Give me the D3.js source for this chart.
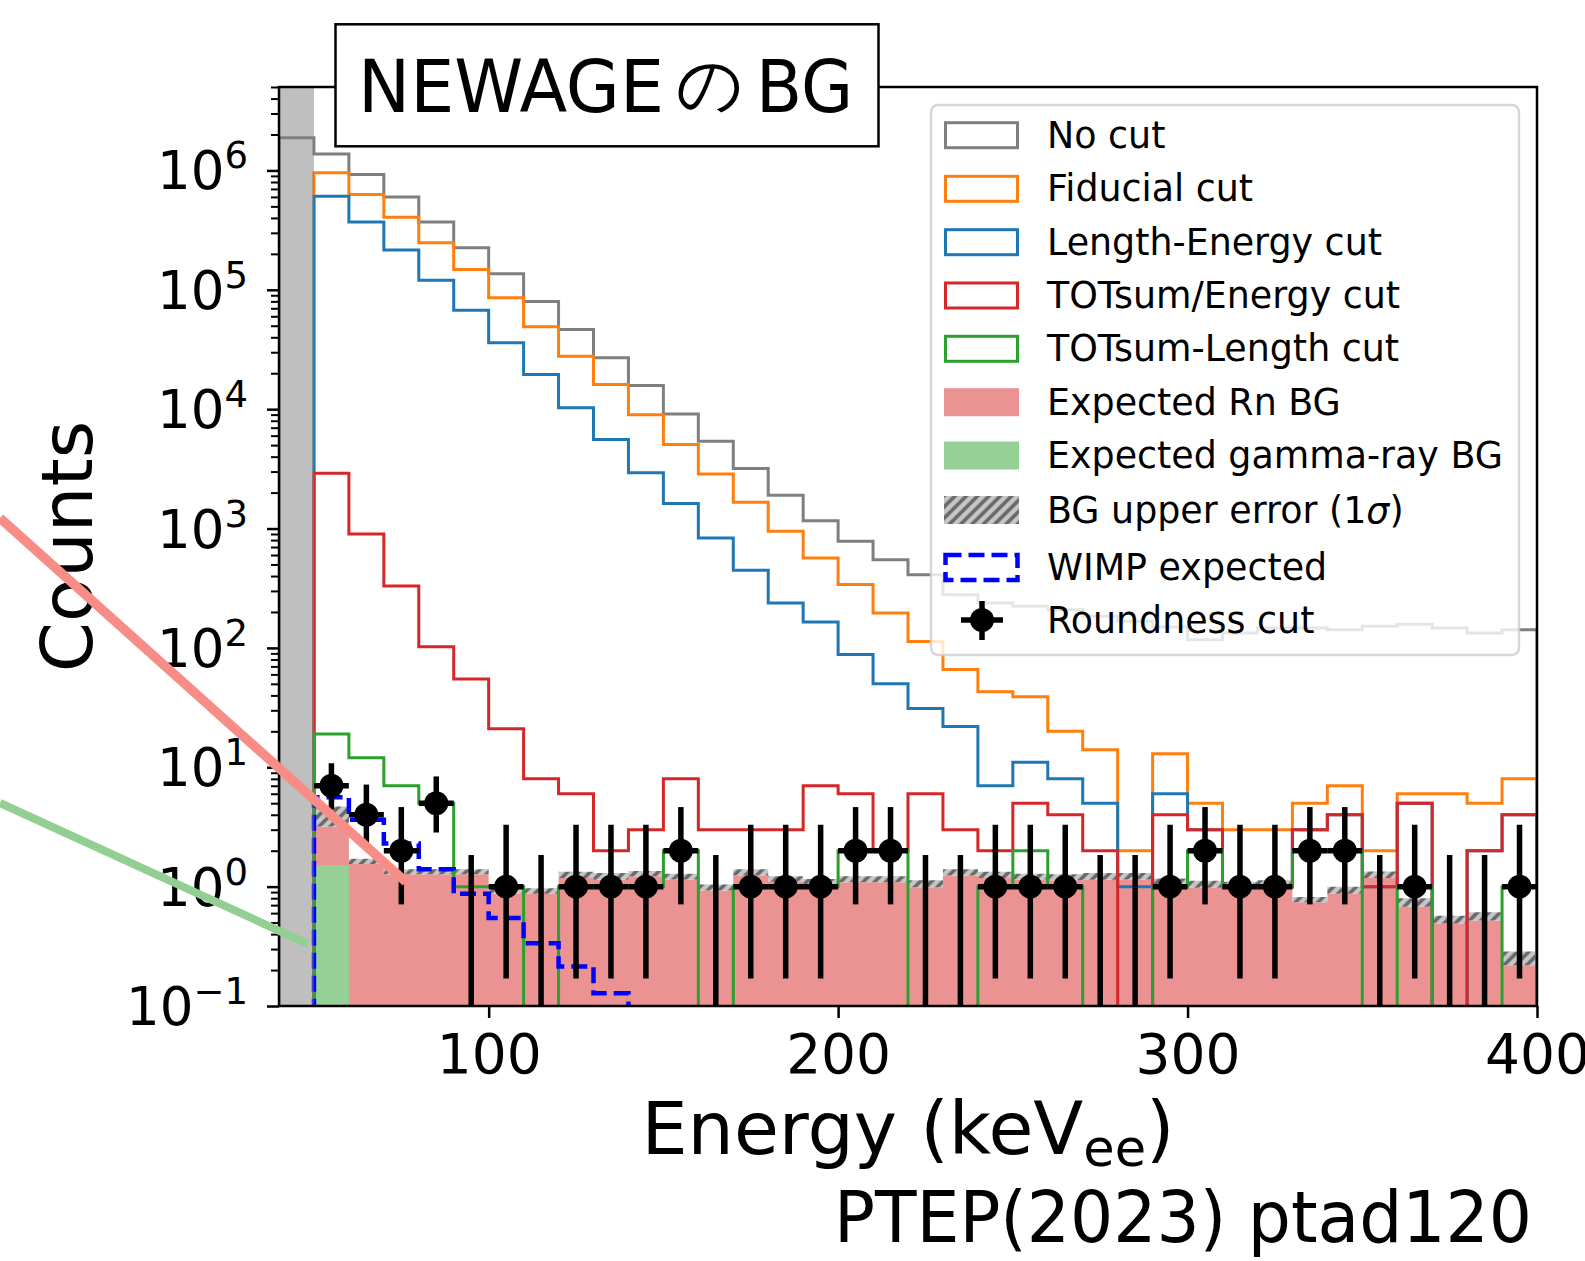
<!DOCTYPE html>
<html>
<head>
<meta charset="utf-8">
<script src="https://cdn.jsdelivr.net/npm/d3@7"></script>
<style>
body { margin: 0; background: #fff; }
text { font-family: "DejaVu Sans", sans-serif; fill: #000; }
</style>
</head>
<body>
<div id="chart"></div>
<script>
// ---- data (counts per 10 keV bin) ----
var binWidth = 10;
var binStart = [50,60,70,80,90,100,110,120,130,140,150,160,170,180,190,200,210,220,230,240,
                250,260,270,280,290,300,310,320,330,340,350,360,370,380,390];
var noCutStart = [40,50,60,70,80,90,100,110,120,130,140,150,160,170,180,190,200,210,220,230,240,
                  250,260,270,280,290,300,310,320,330,340,350,360,370,380,390];
var noCut = [1.88e6,1.37e6,9.26e5,6.0e5,3.69e5,2.25e5,1.36e5,7.98e4,4.65e4,2.69e4,1.58e4,9120,5380,3180,
             1900,1160,781,548,410,279,238,223,209,184,167,150,117,133,147,147,142,152,158,147,133,142];
var fiducial = [9.56e5,6.29e5,4.06e5,2.48e5,1.48e5,8.57e4,4.9e4,2.78e4,1.61e4,9000,5050,2870,1660,948,
                566,339,196,113,66,43,39,20,14,2,13,5,3,3,5,7,2,6,6,5,8];
var lengthEnergy = [6.09e5,3.69e5,2.15e5,1.2e5,6.75e4,3.6e4,1.95e4,1.03e4,5560,2930,1620,834,447,238,
                    165,88,50,31,22,7,11,8,5,1,6,3,1,1,3,4,1,5,0,2,4];
var totEnergy = [2900,900,330,102,55,21,8,6,2,3,8,3,3,3,7,6,2,6,3,2,5,4,2,0,4,3,1,1,3,4,1,5,0,2,4];
var totLength = [19,12,7,5,1,1,0,1,1,1,2,0,1,1,1,2,2,0,0,1,2,1,0,0,1,2,1,1,2,2,0,1,0,0,1];
var roundness = [7,4,2,5,0,1,0,1,1,1,2,0,1,1,1,2,2,0,0,1,1,1,0,0,1,2,1,1,2,2,0,1,0,0,1];
var roundLo = [4.42,2.09,0.71,2.84,0,0.17,0,0.17,0.17,0.17,0.71,0,0.17,0.17,0.17,0.71,0.71,0,0,0.17,
               0.17,0.17,0,0,0.17,0.71,0.17,0.17,0.71,0.71,0,0.17,0,0,0.17];
var roundHi = [10.8,7.16,4.64,8.38,1.84,3.30,1.84,3.30,3.30,3.30,4.64,1.84,3.30,3.30,3.30,4.64,4.64,1.84,
               1.84,3.30,3.30,3.30,1.84,1.84,3.30,4.64,3.30,3.30,4.64,4.64,1.84,3.30,1.84,1.84,3.30];
var rnBG = [1.67,1.545,1.27,1.27,1.27,0.87,0.87,1.18,1.14,1.22,1.15,0.93,1.24,1.10,1.05,1.09,1.09,0.99,
            1.24,1.18,1.15,1.13,1.14,1.15,1.05,0.98,0.98,1.00,0.74,0.87,1.18,0.68,0.49,0.52,0.22];
var gammaBG = [1.52,0,0,0,0,0,0,0,0,0,0,0,0,0,0,0,0,0,0,0,0,0,0,0,0,0,0,0,0,0,0,0,0,0,0];
var bgErrUp = [1.50,0.165,0.13,0.13,0.13,0.10,0.10,0.15,0.16,0.13,0.13,0.11,0.16,0.12,0.11,0.13,0.13,0.14,
               0.16,0.15,0.13,0.14,0.16,0.15,0.12,0.14,0.12,0.13,0.08,0.13,0.16,0.12,0.08,0.09,0.066];
var wimpStart = [50,60,70,80,90,100,110,120,130,140];
var wimp = [5.6,3.63,2.3,1.40,0.87,0.545,0.336,0.214,0.128,0.07];
var xTicks = [100,200,300,400];
var yExpLabels = ["\u22121","0","1","2","3","4","5","6"];

var legendLabels = ["No cut","Fiducial cut","Length-Energy cut","TOTsum/Energy cut","TOTsum-Length cut",
                    "Expected Rn BG","Expected gamma-ray BG","BG upper error (1\u03c3)","WIMP expected","Roundness cut"];

// ---- layout ----
var plotLeft = 279, plotRight = 1537, plotTop = 87, plotBottom = 1006;
var pinkFill = "#eb9393", greenFill = "#96d096";
var wimpDash = "16,7";

var svg = d3.select("#chart").append("svg")
  .attr("width", 1585)
  .attr("height", 1261);

var x = d3.scaleLinear().domain([40, 400]).range([plotLeft, plotRight]);
var y = d3.scaleLog().domain([0.1, 5e6]).range([plotBottom, plotTop]);
// zero counts fall below the axis and get clipped
function yv(v) { return v > 0 ? y(v) : y(1e-3); }

var defs = svg.append("defs");
defs.append("clipPath").attr("id", "plotClip")
  .append("rect")
  .attr("x", plotLeft).attr("y", plotTop)
  .attr("width", plotRight - plotLeft).attr("height", plotBottom - plotTop);

var hatch = defs.append("pattern")
  .attr("id", "hatch")
  .attr("patternUnits", "userSpaceOnUse")
  .attr("width", 8).attr("height", 8)
  .attr("patternTransform", "rotate(45)");
hatch.append("rect").attr("width", 8).attr("height", 8).attr("fill", "#c6c6c6");
hatch.append("line").attr("x1", 2).attr("x2", 2).attr("y1", 0).attr("y2", 8)
  .attr("stroke", "#666").attr("stroke-width", 3.5);

var plot = svg.append("g").attr("clip-path", "url(#plotClip)");

// step helpers
function stepPoints(starts, vals) {
  var pts = [[starts[0], 0]];
  starts.forEach(function(s, i) {
    pts.push([s, vals[i]]);
    pts.push([s + binWidth, vals[i]]);
  });
  pts.push([starts[starts.length - 1] + binWidth, 0]);
  return pts;
}
var stepLine = d3.line()
  .x(function(p) { return x(p[0]); })
  .y(function(p) { return yv(p[1]); });

function areaPoints(lo, hi) {
  var pts = binStart.map(function(s, i) { return {e: s, lo: lo[i], hi: hi[i]}; });
  var last = pts[pts.length - 1];
  pts.push({e: last.e + binWidth, lo: last.lo, hi: last.hi});
  return pts;
}
var stepArea = d3.area()
  .curve(d3.curveStepAfter)
  .x(function(d) { return x(d.e); })
  .y0(function(d) { return d.lo === null ? plotBottom : yv(d.lo); })
  .y1(function(d) { return yv(d.hi); });

// expected backgrounds (stacked: gamma at the bottom, Rn on top)
var bgTotal = rnBG.map(function(r, i) { return r + gammaBG[i]; });
var bgUpper = bgTotal.map(function(t, i) { return t + bgErrUp[i]; });
var nulls = binStart.map(function() { return null; });

plot.append("path")
  .attr("d", stepArea(areaPoints(nulls, bgTotal)))
  .attr("fill", pinkFill);
plot.append("path")
  .attr("d", stepArea(areaPoints(nulls, gammaBG)))
  .attr("fill", greenFill);
plot.append("path")
  .attr("d", stepArea(areaPoints(bgTotal, bgUpper)))
  .attr("fill", "url(#hatch)");

// cut histograms
var hists = [
  {starts: noCutStart, vals: noCut, color: "#7f7f7f"},
  {starts: binStart, vals: fiducial, color: "#ff7f0e"},
  {starts: binStart, vals: lengthEnergy, color: "#1f77b4"},
  {starts: binStart, vals: totEnergy, color: "#d62728"},
  {starts: binStart, vals: totLength, color: "#2ca02c"}
];
plot.selectAll("path.hist")
  .data(hists)
  .enter()
  .append("path")
  .attr("class", "hist")
  .attr("d", function(h) { return stepLine(stepPoints(h.starts, h.vals)); })
  .attr("fill", "none")
  .attr("stroke", function(h) { return h.color; })
  .attr("stroke-width", 3)
  .attr("stroke-linejoin", "miter");

// WIMP expectation
plot.append("path")
  .attr("d", stepLine(stepPoints(wimpStart, wimp)))
  .attr("fill", "none")
  .attr("stroke", "#0000ff")
  .attr("stroke-width", 4.5)
  .attr("stroke-dasharray", wimpDash);

// roundness-cut data with errors
var pts = binStart.map(function(s, i) {
  return {c: s + binWidth / 2, n: roundness[i], lo: roundLo[i], hi: roundHi[i]};
});
var dataG = plot.append("g");
dataG.selectAll("line.vbar")
  .data(pts).enter().append("line")
  .attr("x1", function(d) { return x(d.c); })
  .attr("x2", function(d) { return x(d.c); })
  .attr("y1", function(d) { return yv(d.lo); })
  .attr("y2", function(d) { return y(d.hi); })
  .attr("stroke", "#000").attr("stroke-width", 5.5);
var nonZero = pts.filter(function(d) { return d.n > 0; });
dataG.selectAll("line.hbar")
  .data(nonZero).enter().append("line")
  .attr("x1", function(d) { return x(d.c - binWidth / 2); })
  .attr("x2", function(d) { return x(d.c + binWidth / 2); })
  .attr("y1", function(d) { return y(d.n); })
  .attr("y2", function(d) { return y(d.n); })
  .attr("stroke", "#000").attr("stroke-width", 5.5);
dataG.selectAll("circle")
  .data(nonZero).enter().append("circle")
  .attr("cx", function(d) { return x(d.c); })
  .attr("cy", function(d) { return y(d.n); })
  .attr("r", 12)
  .attr("fill", "#000");

// excluded region below 50 keV
plot.append("rect")
  .attr("x", x(40)).attr("width", x(50) - x(40))
  .attr("y", plotTop).attr("height", plotBottom - plotTop)
  .attr("fill", "#808080").attr("opacity", 0.5);

// ---- axes ----
var xAxis = svg.append("g")
  .attr("transform", "translate(0," + plotBottom + ")")
  .call(d3.axisBottom(x).tickValues(xTicks).tickSize(12).tickPadding(16).tickFormat(d3.format("d")));
xAxis.select(".domain").remove();
xAxis.selectAll("line").attr("stroke", "#000").attr("stroke-width", 2.5);
xAxis.selectAll("text")
  .attr("font-family", "DejaVu Sans")
  .attr("font-size", 55)
  .attr("fill", "#000");

function isMajor(d) {
  var l = Math.log10(d);
  return Math.abs(l - Math.round(l)) < 1e-9;
}
var yAll = y.ticks();
var yAxis = svg.append("g")
  .attr("transform", "translate(" + plotLeft + ",0)")
  .call(d3.axisLeft(y).tickValues(yAll).tickSize(12).tickFormat(""));
yAxis.select(".domain").remove();
yAxis.selectAll(".tick line")
  .attr("x2", function(d) { return isMajor(d) ? -12 : -8; })
  .attr("stroke", "#000")
  .attr("stroke-width", function(d) { return isMajor(d) ? 2.5 : 2; });

var yMajor = yAll.filter(isMajor);
var yLab = svg.append("g");
yMajor.forEach(function(v, i) {
  var t = yLab.append("text")
    .attr("x", 248)
    .attr("y", y(v) + 19)
    .attr("text-anchor", "end");
  t.append("tspan").attr("font-size", 53).text("10");
  t.append("tspan").attr("font-size", 37).attr("dy", -21).text(yExpLabels[i]);
});

// spines
svg.append("rect")
  .attr("x", plotLeft).attr("y", plotTop)
  .attr("width", plotRight - plotLeft).attr("height", plotBottom - plotTop)
  .attr("fill", "none").attr("stroke", "#000").attr("stroke-width", 2.5);

// axis titles
svg.append("text")
  .attr("transform", "translate(92," + ((plotTop + plotBottom) / 2) + ") rotate(-90)")
  .attr("text-anchor", "middle")
  .attr("font-size", 72)
  .text("Counts");

var xl = svg.append("text")
  .attr("x", (plotLeft + plotRight) / 2)
  .attr("y", 1154)
  .attr("text-anchor", "middle")
  .attr("font-size", 73);
xl.append("tspan").text("Energy (keV");
xl.append("tspan").attr("font-size", 51).attr("dy", 12).text("ee");
xl.append("tspan").attr("dy", -12).text(")");

// ---- legend ----
var rowY = [134.7, 188.3, 241.7, 295, 348.3, 401.7, 455, 509.5, 567, 620];
var legend = svg.append("g");
legend.append("rect")
  .attr("x", 931).attr("y", 105)
  .attr("width", 588).attr("height", 550)
  .attr("rx", 7)
  .attr("fill", "#fff").attr("fill-opacity", 0.8)
  .attr("stroke", "#cccccc").attr("stroke-opacity", 0.8).attr("stroke-width", 2.5);

var outlineColors = ["#7f7f7f", "#ff7f0e", "#1f77b4", "#d62728", "#2ca02c"];
outlineColors.forEach(function(c, i) {
  legend.append("rect")
    .attr("x", 945.5).attr("y", rowY[i] - 12)
    .attr("width", 72).attr("height", 25)
    .attr("fill", "none").attr("stroke", c).attr("stroke-width", 3);
});
[pinkFill, greenFill].forEach(function(c, i) {
  legend.append("rect")
    .attr("x", 944).attr("y", rowY[5 + i] - 13.5)
    .attr("width", 75).attr("height", 28)
    .attr("fill", c);
});
legend.append("rect")
  .attr("x", 944).attr("y", rowY[7] - 13.5)
  .attr("width", 75).attr("height", 28)
  .attr("fill", "url(#hatch)");
legend.append("rect")
  .attr("x", 945.5).attr("y", rowY[8] - 12)
  .attr("width", 72).attr("height", 25)
  .attr("fill", "none").attr("stroke", "#0000ff").attr("stroke-width", 4.5)
  .attr("stroke-dasharray", wimpDash);
var mk = legend.append("g");
mk.append("line").attr("x1", 982).attr("x2", 982).attr("y1", rowY[9] - 19).attr("y2", rowY[9] + 20)
  .attr("stroke", "#000").attr("stroke-width", 5.5);
mk.append("line").attr("x1", 961).attr("x2", 1003).attr("y1", rowY[9]).attr("y2", rowY[9])
  .attr("stroke", "#000").attr("stroke-width", 5.5);
mk.append("circle").attr("cx", 982).attr("cy", rowY[9]).attr("r", 12).attr("fill", "#000");

legendLabels.forEach(function(lab, i) {
  var t = legend.append("text")
    .attr("x", 1047)
    .attr("y", rowY[i] + 13)
    .attr("font-size", 36.4);
  var s = lab.indexOf("\u03c3");
  if (s >= 0) {
    t.append("tspan").text(lab.slice(0, s));
    t.append("tspan").attr("font-style", "italic").text(lab.slice(s, s + 1));
    t.append("tspan").text(lab.slice(s + 1));
  } else {
    t.text(lab);
  }
});

// ---- slide annotations ----
svg.append("rect")
  .attr("x", 335.5).attr("y", 24.3)
  .attr("width", 543).attr("height", 122)
  .attr("fill", "#fff").attr("stroke", "#000").attr("stroke-width", 2.5);
svg.append("text")
  .attr("x", 358).attr("y", 111.7)
  .attr("font-family", "Open Sans").attr("font-size", 73)
  .attr("textLength", 306).attr("lengthAdjust", "spacingAndGlyphs")
  .text("NEWAGE");
svg.append("text")
  .attr("x", 676).attr("y", 107)
  .attr("font-family", "Noto Sans CJK JP").attr("font-size", 66)
  .text("\u306e");
svg.append("text")
  .attr("x", 756).attr("y", 111.7)
  .attr("font-family", "Open Sans").attr("font-size", 73)
  .attr("textLength", 97).attr("lengthAdjust", "spacingAndGlyphs")
  .text("BG");

svg.append("text")
  .attr("x", 834).attr("y", 1242)
  .attr("font-family", "Open Sans").attr("font-size", 71)
  .attr("textLength", 698).attr("lengthAdjust", "spacingAndGlyphs")
  .text("PTEP(2023) ptad120");

svg.append("line")
  .attr("x1", 0).attr("y1", 518).attr("x2", 406).attr("y2", 882)
  .attr("stroke", "#f88c86").attr("stroke-width", 9.5);
svg.append("line")
  .attr("x1", 0).attr("y1", 803).attr("x2", 308).attr("y2", 944)
  .attr("stroke", "#93cf93").attr("stroke-width", 8);
</script>
</body>
</html>
